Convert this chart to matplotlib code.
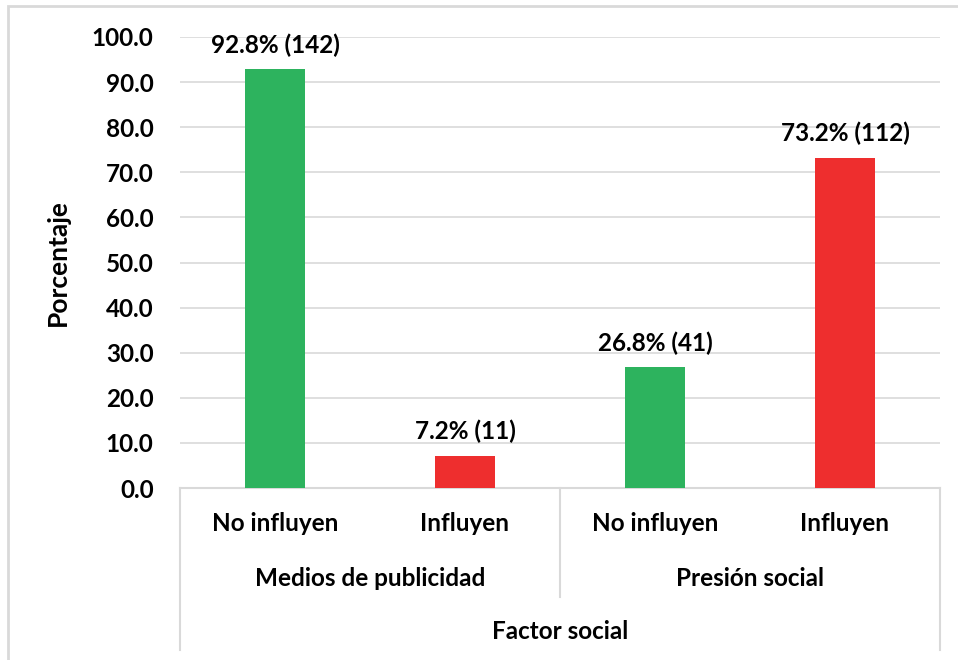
import matplotlib
matplotlib.use('Agg')
import matplotlib.pyplot as plt
from matplotlib.patches import Rectangle
import numpy as np

# datos
grupos = ['Medios de publicidad', 'Presión social']
categorias = ['No influyen', 'Influyen', 'No influyen', 'Influyen']
porcentajes = [92.8, 7.2, 26.8, 73.2]
conteos = [142, 11, 41, 112]
colores = ['#2DB35E', '#EE2E2E', '#2DB35E', '#EE2E2E']
titulo_eje_x = 'Factor social'
titulo_eje_y = 'Porcentaje'

plt.rcParams['font.family'] = ['Lato', 'DejaVu Sans']
plt.rcParams['font.weight'] = 'bold'
FS = 17.5

fig = plt.figure(figsize=(9.58, 6.6), dpi=100)
ax = fig.add_axes([180 / 958, 172 / 660, 760 / 958, 451 / 660])

x = np.arange(len(categorias))
bars = ax.bar(x, porcentajes, width=0.316, color=colores, zorder=3)

# etiquetas de valor
for bar, p, n in zip(bars, porcentajes, conteos):
    ax.annotate(f'{p:.1f}% ({n})',
                xy=(bar.get_x() + bar.get_width() / 2, bar.get_height()),
                xytext=(0, 9), textcoords='offset points',
                ha='center', va='bottom', fontsize=FS, fontweight='bold')

ax.set_xlim(-0.5, len(categorias) - 0.5)
ax.set_ylim(0, 100)
ax.set_yticks(np.arange(0, 101, 10))
ax.set_yticklabels([f'{v:.1f}' for v in np.arange(0, 101, 10)], fontsize=FS, fontweight='bold')
ax.tick_params(axis='y', length=0, pad=19)
ax.set_xticks([])
ax.grid(True, axis='y', color='#D9D9D9', linewidth=1.2, zorder=0)
for s in ['top', 'right', 'left']:
    ax.spines[s].set_visible(False)
ax.spines['bottom'].set_color('#D9D9D9')
ax.spines['bottom'].set_linewidth(1.5)
ax.set_ylabel(titulo_eje_y, fontsize=19, fontweight='bold', labelpad=16)

# ejes de categorías multinivel
trans = ax.get_xaxis_transform()
for xi, cat in zip(x, categorias):
    ax.text(xi, -0.078, cat, transform=trans, ha='center', va='center',
            fontsize=FS, fontweight='bold')
for gi, g in enumerate(grupos):
    ax.text(gi * 2 + 0.5, -0.2, g, transform=trans, ha='center', va='center',
            fontsize=FS, fontweight='bold')
ax.text((len(categorias) - 1) / 2, -0.319, titulo_eje_x, transform=trans,
        ha='center', va='center', fontsize=FS, fontweight='bold')

sep_kw = dict(transform=trans, color='#D9D9D9', linewidth=1.5, clip_on=False)
ax.plot([-0.5, -0.5], [0, -0.36], **sep_kw)
ax.plot([len(categorias) - 0.5] * 2, [0, -0.36], **sep_kw)
ax.plot([1.5, 1.5], [0, -0.242], **sep_kw)

# borde del gráfico
fig.patches.append(Rectangle((8 / 958, -0.1), 1.2, (660 - 6) / 660 + 0.1,
                             transform=fig.transFigure, fill=False,
                             edgecolor='#D9D9D9', linewidth=2))

fig.savefig('out.png', dpi=100)
